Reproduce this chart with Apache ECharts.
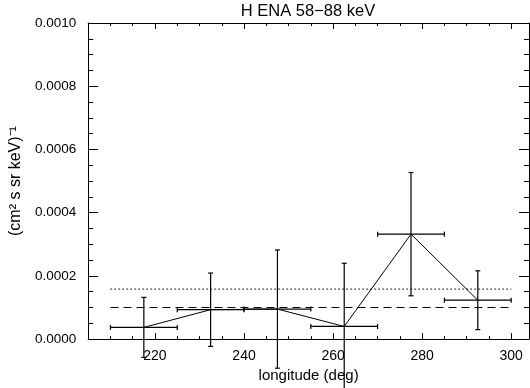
<!DOCTYPE html>
<html>
<head>
<meta charset="utf-8">
<script src="https://cdn.jsdelivr.net/npm/echarts@6/dist/echarts.min.js"></script>
<style>html,body{margin:0;padding:0;background:#fff;}#c{width:530px;height:388px;}</style>
</head>
<body>
<div id="c"></div>
<script>
// Data
var lon = [217.5, 232.5, 247.5, 262.5, 277.5, 292.5];
var lonErr = [7.5, 7.5, 7.5, 7.5, 7.5, 7.5];
var flux = [0.000037, 0.000093, 0.000095, 0.000040, 0.000332, 0.000123];
var fluxErr = [0.000095, 0.000116, 0.000187, 0.000200, 0.000195, 0.000093];
var dashedLevel = 0.000100;
var dottedLevel = 0.000158;
var levelRange = [210, 300];
var xMajorTicks = [220, 240, 260, 280, 300];
var xMinorTicks = [210, 215, 220, 225, 230, 235, 240, 245, 250, 255, 260, 265, 270, 275, 280, 285, 290, 295, 300];
var titleText = 'H ENA 58\u221288 keV';
var xName = 'longitude (deg)';
var yName = '(cm\u00B2 s sr keV)\u207B\u00B9';

var FONT = 'Liberation Sans';
var chart = echarts.init(document.getElementById('c'), null, {renderer: 'canvas'});

var errData = lon.map(function (v, i) { return [v, flux[i], lonErr[i], fluxErr[i]]; });
var lineData = lon.map(function (v, i) { return [v, flux[i]]; });

function xAxisDef(pos, ticks, len, labels, lineShow) {
  return {
    type: 'value', position: pos, min: 205, max: 304,
    axisLine: {show: lineShow, onZero: false, lineStyle: {color: '#000', width: 1}},
    axisTick: {show: true, inside: true, length: len, customValues: ticks, lineStyle: {color: '#000', width: 1}},
    axisLabel: labels ? {show: true, customValues: xMajorTicks, color: '#000', fontFamily: FONT, fontSize: 14, margin: 10} : {show: false},
    splitLine: {show: false}
  };
}

var option = {
  animation: false,
  backgroundColor: '#fff',
  title: {
    text: titleText, left: 308, top: 3, textAlign: 'center', padding: 0,
    textStyle: {color: '#000', fontFamily: FONT, fontSize: 16.5, fontWeight: 'normal'}
  },
  grid: {left: 87.7, right: 1, top: 23, bottom: 48.7, containLabel: false},
  xAxis: [
    Object.assign(xAxisDef('bottom', xMajorTicks, 6, true, true), {
      name: xName, nameLocation: 'middle', nameGap: 26,
      nameTextStyle: {color: '#000', fontFamily: FONT, fontSize: 15}
    }),
    xAxisDef('bottom', xMinorTicks, 3, false, false),
    xAxisDef('top', xMajorTicks, 6, false, true),
    xAxisDef('top', xMinorTicks, 3, false, false)
  ],
  yAxis: [
    {
      type: 'value', position: 'left', min: 0, max: 0.001, interval: 0.0002,
      name: yName, nameLocation: 'middle', nameGap: 54,
      nameTextStyle: {color: '#000', fontFamily: FONT, fontSize: 16},
      axisLine: {show: true, lineStyle: {color: '#000', width: 1}},
      axisTick: {show: true, inside: true, length: 10, lineStyle: {color: '#000'}},
      minorTick: {show: true, splitNumber: 4, length: 5, lineStyle: {color: '#000'}},
      axisLabel: {color: '#000', fontFamily: FONT, fontSize: 13.5, margin: 12,
        formatter: function (v) { return v.toFixed(4); }},
      splitLine: {show: false}
    },
    {
      type: 'value', position: 'right', min: 0, max: 0.001, interval: 0.0002,
      axisLine: {show: true, lineStyle: {color: '#000', width: 1}},
      axisTick: {show: true, inside: true, length: 10, lineStyle: {color: '#000'}},
      minorTick: {show: true, splitNumber: 4, length: 5, lineStyle: {color: '#000'}},
      axisLabel: {show: false},
      splitLine: {show: false}
    }
  ],
  series: [
    {
      type: 'line', data: [[levelRange[0], dottedLevel], [levelRange[1], dottedLevel]],
      symbol: 'none', silent: true,
      lineStyle: {color: '#000', width: 1.3, type: [1.3, 2.7]}
    },
    {
      type: 'line', data: [[levelRange[0], dashedLevel], [levelRange[1], dashedLevel]],
      symbol: 'none', silent: true,
      lineStyle: {color: '#000', width: 1.2, type: [8, 5]}
    },
    {
      type: 'line', data: lineData, symbol: 'none', silent: true, clip: false,
      lineStyle: {color: '#000', width: 1}
    },
    {
      type: 'custom', data: errData, clip: false, silent: true,
      renderItem: function (params, api) {
        var x = api.value(0), y = api.value(1), xe = api.value(2), ye = api.value(3);
        var l = api.coord([x - xe, y]), r = api.coord([x + xe, y]);
        var t = api.coord([x, y + ye]), b = api.coord([x, y - ye]);
        var cap = 2.5;
        var st = {stroke: '#000', lineWidth: 1.2};
        function seg(a, c) {
          return {type: 'line', shape: {x1: a[0], y1: a[1], x2: c[0], y2: c[1]}, style: st};
        }
        return {type: 'group', children: [
          seg(l, r),
          seg([l[0], l[1] - cap], [l[0], l[1] + cap]),
          seg([r[0], r[1] - cap], [r[0], r[1] + cap]),
          seg(t, b),
          seg([t[0] - cap, t[1]], [t[0] + cap, t[1]]),
          seg([b[0] - cap, b[1]], [b[0] + cap, b[1]])
        ]};
      }
    }
  ]
};
chart.setOption(option);
</script>
</body>
</html>
